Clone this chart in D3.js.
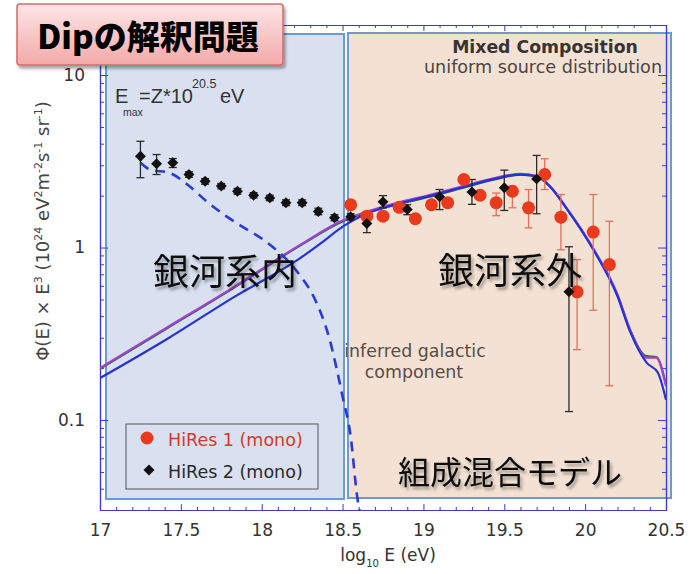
<!DOCTYPE html>
<html><head><meta charset="utf-8">
<script src="https://cdn.jsdelivr.net/npm/d3@7/dist/d3.min.js"></script>
<style>body{margin:0;background:#fff}</style>
</head><body>
<svg id="c" width="695" height="574"></svg>
<script>
// ---------- data ----------
const hires1E    = [18.55,18.65,18.75,18.85,18.95,19.05,19.15,19.25,19.35,19.45,19.55,19.65,19.75,19.85,19.95,20.05,20.15];
const hires1Flux = [1.77,1.52,1.52,1.71,1.47,1.77,1.82,2.48,2.01,1.82,2.12,1.70,2.65,1.50,0.554,1.23,0.797];
const hires1Lo   = [1.70,1.46,1.46,1.64,1.41,1.70,1.74,2.38,1.90,1.53,1.70,1.30,2.17,0.97,0.256,0.433,0.158];
const hires1Hi   = [1.84,1.58,1.58,1.78,1.53,1.84,1.90,2.58,2.12,2.07,2.27,2.17,3.27,2.03,0.852,2.03,1.42];

const hires2E    = [17.25,17.35,17.45,17.55,17.65,17.75,17.85,17.95,18.05,18.15,18.25,18.35,18.45,18.55,18.65,18.75,18.9,19.1,19.3,19.5,19.7,19.9];
const hires2Flux = [3.38,3.06,3.10,2.65,2.42,2.27,2.12,2.01,1.94,1.82,1.82,1.62,1.49,1.51,1.38,1.84,1.66,1.97,2.10,2.22,2.50,0.554];
const hires2Lo   = [2.54,2.65,2.91,2.55,2.33,2.19,2.04,1.94,1.87,1.75,1.75,1.55,1.43,1.45,1.22,1.70,1.55,1.66,1.78,1.64,1.57,0.112];
const hires2Hi   = [4.13,3.46,3.28,2.75,2.51,2.35,2.20,2.08,2.01,1.89,1.89,1.69,1.55,1.57,1.51,2.00,1.77,2.17,2.48,2.81,3.42,1.01];

const blueE    = [17.0,17.41,17.82,18.24,18.36,18.51,18.62,18.82,19.03,19.23,19.44,19.60,19.70,19.78,19.89,20.05,20.20,20.28,20.38,20.45,20.5];
const blueFlux = [0.175,0.293,0.511,0.871,1.05,1.34,1.53,1.77,1.98,2.22,2.50,2.65,2.59,2.27,1.66,0.974,0.522,0.322,0.215,0.188,0.131];

const purpleE    = [17.0,17.41,17.82,18.24,18.51,18.62,18.82,19.03,19.23,19.44,19.60,19.70,19.78,19.89,20.05,20.20,20.28,20.38,20.44,20.5];
const purpleFlux = [0.200,0.342,0.584,1.04,1.45,1.58,1.80,2.01,2.25,2.53,2.67,2.60,2.28,1.67,0.99,0.535,0.33,0.23,0.23,0.157];
const greenFlux  = [0.198,0.338,0.578,1.03,1.43,1.56,1.76,1.96,2.20,2.48,2.64,2.58,2.27,1.66,0.98,0.53,0.33,0.235,0.232,0.16];

const galE    = [17.25,17.31,17.43,17.54,17.66,17.78,17.91,18.01,18.24,18.32,18.42,18.50,18.55,18.59,18.61];
const galFlux = [3.10,2.83,2.71,2.32,1.85,1.52,1.27,1.11,0.682,0.522,0.293,0.137,0.0805,0.0362,0.028];

const xTickLabels = [17,17.5,18,18.5,19,19.5,20,20.5];
const yTickLabels = [0.1,1,10];

// ---------- drawing ----------
const svg = d3.select("#c");
const x = d3.scaleLinear().domain([17,20.5]).range([100,666]);
const y = d3.scaleLog().domain([0.0301,19.5]).range([510,25]);
const AX = "#3b3bcc";
const EN = "DejaVu Sans, Verdana, sans-serif";
const JP = "Noto Sans CJK JP, sans-serif";

const defs = svg.append("defs");
const sh = defs.append("filter").attr("id","sh").attr("x","-10%").attr("y","-20%").attr("width","130%").attr("height","150%");
sh.append("feDropShadow").attr("dx",2).attr("dy",3).attr("stdDeviation",1.8).attr("flood-color","#000").attr("flood-opacity",0.35);
const gr = defs.append("linearGradient").attr("id","tg").attr("x1",0).attr("y1",0).attr("x2",0).attr("y2",1);
gr.append("stop").attr("offset","0%").attr("stop-color","#fde6e6");
gr.append("stop").attr("offset","100%").attr("stop-color","#f4a9a9");
defs.append("clipPath").attr("id","clip").append("rect").attr("x",100).attr("y",25).attr("width",566).attr("height",485);

// region boxes
svg.append("rect").attr("x",106).attr("y",34).attr("width",238).attr("height",465)
  .attr("fill","#d9e1f1").attr("stroke","#6a9bd4").attr("stroke-width",2);
svg.append("rect").attr("x",348).attr("y",33).attr("width",323).attr("height",465)
  .attr("fill","#f3e2d3").attr("stroke","#6a9bd4").attr("stroke-width",2);

// axes
const xMinor = x.ticks(35).filter(d => !xTickLabels.includes(+d.toFixed(1)));
const yMinor = y.ticks().filter(d => !yTickLabels.some(t => Math.abs(t-d)/t < 1e-6));
function styl(g){
  g.select(".domain").attr("stroke",AX).attr("stroke-width",1.2);
  g.selectAll(".tick line").attr("stroke",AX).attr("stroke-width",1);
  g.selectAll(".tick text").attr("fill","#333").attr("font-family",EN).attr("font-size",17);
}
svg.append("g").attr("transform","translate(0,510)")
  .call(d3.axisBottom(x).tickValues(xMinor).tickSize(-3).tickSizeOuter(0).tickFormat("")).call(styl);
svg.append("g").attr("transform","translate(0,510)")
  .call(d3.axisBottom(x).tickValues(xTickLabels).tickSize(-6).tickSizeOuter(0).tickPadding(14).tickFormat(d=>String(d))).call(styl);
svg.append("g").attr("transform","translate(0,25)")
  .call(d3.axisTop(x).tickValues(xMinor).tickSize(-3).tickSizeOuter(0).tickFormat("")).call(styl);
svg.append("g").attr("transform","translate(0,25)")
  .call(d3.axisTop(x).tickValues(xTickLabels).tickSize(-6).tickSizeOuter(0).tickFormat("")).call(styl);
svg.append("g").attr("transform","translate(100,0)")
  .call(d3.axisLeft(y).tickValues(yMinor).tickSize(-4).tickSizeOuter(0).tickFormat("")).call(styl);
svg.append("g").attr("transform","translate(100,0)")
  .call(d3.axisLeft(y).tickValues(yTickLabels).tickSize(-8).tickSizeOuter(0).tickPadding(15).tickFormat(d=>String(d))).call(styl);
svg.append("g").attr("transform","translate(666,0)")
  .call(d3.axisRight(y).tickValues(yMinor).tickSize(-4).tickSizeOuter(0).tickFormat("")).call(styl);
svg.append("g").attr("transform","translate(666,0)")
  .call(d3.axisRight(y).tickValues(yTickLabels).tickSize(-8).tickSizeOuter(0).tickFormat("")).call(styl);

// axis titles
const xt = svg.append("text").attr("x",388).attr("y",561).attr("text-anchor","middle")
  .attr("font-family",EN).attr("font-size",17).attr("fill","#333");
xt.append("tspan").text("log");
xt.append("tspan").attr("font-size",10).attr("dy",6).text("10");
xt.append("tspan").attr("dy",-6).text(" E (eV)");

const yt = svg.append("text").attr("transform","translate(49,231) rotate(-90)").attr("text-anchor","middle")
  .attr("font-family",EN).attr("font-size",18).attr("fill","#444");
const ypieces = [["Φ(E) × E",0],["3",1],[" (10",0],["24",1],[" eV",0],["2",1],["m",0],["-2",1],["s",0],["-1",1],[" sr",0],["-1",1],[")",0]];
let prev = 0;
ypieces.forEach(([t,s]) => {
  const dy = (s ? -7 : 0) - prev; prev = s ? -7 : 0;
  yt.append("tspan").attr("dy",dy).attr("font-size", s ? 11 : 18).text(t);
});

// curves
const plot = svg.append("g").attr("clip-path","url(#clip)");
const line = d3.line().curve(d3.curveMonotoneX).x(d=>x(d[0])).y(d=>y(d[1]));
plot.append("path").datum(d3.zip(purpleE,greenFlux)).attr("d",line).attr("fill","none").attr("stroke","#2c6b2c").attr("stroke-width",2);
plot.append("path").datum(d3.zip(purpleE,purpleFlux)).attr("d",line).attr("fill","none").attr("stroke","#a23fd6").attr("stroke-width",2.2);
plot.append("path").datum(d3.zip(blueE,blueFlux)).attr("d",line).attr("fill","none").attr("stroke","#2631d6").attr("stroke-width",2.2);
plot.append("path").datum(d3.zip(galE,galFlux)).attr("d",line).attr("fill","none").attr("stroke","#2a3bd2")
  .attr("stroke-width",2.6).attr("stroke-dasharray","10,7");

// error bars
function errbars(E,Lo,Hi,col){
  const g = plot.append("g").attr("stroke",col).attr("stroke-width",1.3);
  E.forEach((e,i)=>{
    g.append("line").attr("x1",x(e)).attr("x2",x(e)).attr("y1",y(Lo[i])).attr("y2",y(Hi[i]));
    g.append("line").attr("x1",x(e)-4).attr("x2",x(e)+4).attr("y1",y(Lo[i])).attr("y2",y(Lo[i]));
    g.append("line").attr("x1",x(e)-4).attr("x2",x(e)+4).attr("y1",y(Hi[i])).attr("y2",y(Hi[i]));
  });
}
errbars(hires2E,hires2Lo,hires2Hi,"#2a2a2a");
errbars(hires1E,hires1Lo,hires1Hi,"#e4705e");

plot.append("g").selectAll("circle").data(d3.zip(hires1E,hires1Flux)).join("circle")
  .attr("cx",d=>x(d[0])).attr("cy",d=>y(d[1])).attr("r",6.5).attr("fill","#ea3a1e");
const diamond = d3.symbol(d3.symbolSquare,60);
plot.append("g").selectAll("path").data(d3.zip(hires2E,hires2Flux)).join("path")
  .attr("d",diamond).attr("transform",d=>`translate(${x(d[0])},${y(d[1])}) rotate(45)`).attr("fill","#111");

// annotations
const em = svg.append("g").attr("font-family","Liberation Sans, Arial, sans-serif").attr("fill","#333");
em.append("text").attr("x",115).attr("y",103).attr("font-size",20).text("E");
em.append("text").attr("x",123).attr("y",116).attr("font-size",10.5).text("max");
em.append("text").attr("x",139).attr("y",103).attr("font-size",20).text("=Z*10");
em.append("text").attr("x",192).attr("y",88).attr("font-size",12.5).text("20.5");
em.append("text").attr("x",220).attr("y",103).attr("font-size",20).text("eV");

svg.append("text").attr("x",545).attr("y",53).attr("text-anchor","middle").attr("font-family",EN)
  .attr("font-weight","bold").attr("font-size",17.3).attr("fill","#3a3232").text("Mixed Composition");
svg.append("text").attr("x",543).attr("y",73).attr("text-anchor","middle").attr("font-family",EN)
  .attr("font-size",17.6).attr("fill","#4a4444").text("uniform source distribution");
svg.append("text").attr("x",415).attr("y",357).attr("text-anchor","middle").attr("font-family",EN)
  .attr("font-size",17.4).attr("fill","#5a4c44").text("inferred galactic");
svg.append("text").attr("x",414).attr("y",378).attr("text-anchor","middle").attr("font-family",EN)
  .attr("font-size",17.4).attr("fill","#5a4c44").text("component");

const jp = svg.append("g").attr("font-family",JP).attr("fill","#111").attr("filter","url(#sh)");
jp.append("text").attr("x",225).attr("y",269).attr("dominant-baseline","central").attr("text-anchor","middle").attr("font-size",36).text("銀河系内");
jp.append("text").attr("x",510).attr("y",268).attr("dominant-baseline","central").attr("text-anchor","middle").attr("font-size",36).text("銀河系外");
jp.append("text").attr("x",398).attr("y",470).attr("dominant-baseline","central").attr("text-anchor","start").attr("font-size",32).text("組成混合モデル");

// legend
const lg = svg.append("g");
lg.append("rect").attr("x",126).attr("y",424).attr("width",192).attr("height",65).attr("fill","none").attr("stroke","#555").attr("stroke-width",1);
lg.append("circle").attr("cx",147).attr("cy",438).attr("r",6.5).attr("fill","#ea3a1e");
lg.append("path").attr("d",diamond).attr("transform","translate(149,470) rotate(45)").attr("fill","#111");
lg.append("text").attr("x",168).attr("y",446).attr("font-family",EN).attr("font-size",17.5).attr("fill","#d2392a").text("HiRes 1 (mono)");
lg.append("text").attr("x",168).attr("y",478).attr("font-family",EN).attr("font-size",17.5).attr("fill","#2a2a2a").text("HiRes 2 (mono)");

// title box
const tb = svg.append("g");
tb.append("rect").attr("x",17).attr("y",4).attr("width",266).attr("height",61).attr("rx",3)
  .attr("fill","url(#tg)").attr("stroke","#d36a6a").attr("stroke-width",1.5).attr("filter","url(#sh)");
tb.append("text").attr("x",148).attr("y",35).attr("text-anchor","middle").attr("dominant-baseline","central")
  .attr("font-family",JP).attr("font-weight",900).attr("font-size",33).attr("fill","#000").text("Dipの解釈問題");
</script>
</body></html>
